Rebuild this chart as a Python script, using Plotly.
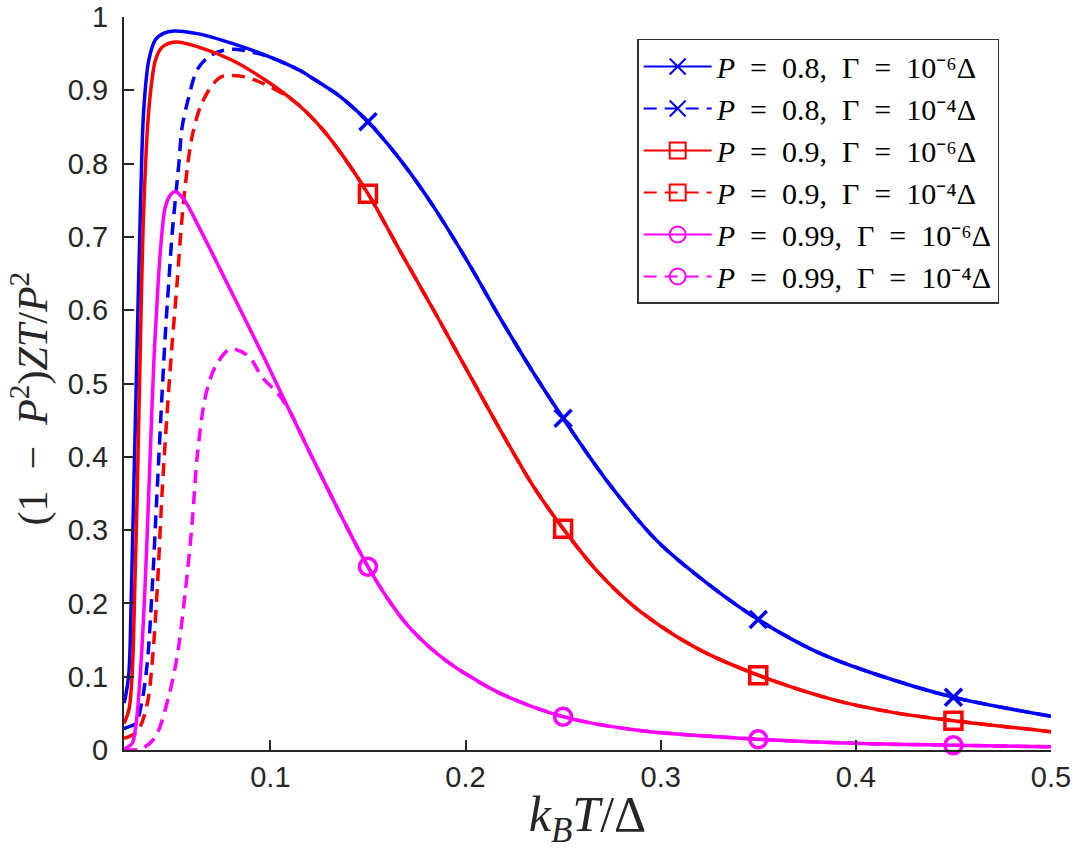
import plotly.graph_objects as go

# ---------------- data ----------------
# P = 0.8, Gamma = 1e-6 Delta (solid blue)
x_b6 = [0.025, 0.0258, 0.0275, 0.0288, 0.0300, 0.0312, 0.0334, 0.0351, 0.0377, 0.0411,
        0.0455, 0.0505, 0.0633, 0.0804, 0.0974, 0.1145, 0.123, 0.135, 0.15, 0.1666,
        0.1837, 0.2007, 0.2178, 0.2354, 0.25, 0.2739, 0.2982, 0.3245, 0.35, 0.3791,
        0.4095, 0.45, 0.5]
y_b6 = [0.064, 0.073, 0.105, 0.218, 0.355, 0.491, 0.737, 0.873, 0.941, 0.969,
        0.978, 0.981, 0.977, 0.964, 0.948, 0.928, 0.914, 0.893, 0.857, 0.805,
        0.741, 0.668, 0.589, 0.512, 0.4525, 0.362, 0.285, 0.226, 0.178, 0.135,
        0.104, 0.072, 0.046]

# P = 0.8, Gamma = 1e-4 Delta (dashed blue)
x_b4 = [0.025, 0.0258, 0.0309, 0.0343, 0.0369, 0.0394, 0.0420, 0.0446, 0.0462, 0.0479,
        0.0497, 0.0531, 0.0548, 0.0582, 0.0625, 0.0684, 0.0753, 0.0821, 0.094, 0.1,
        0.1145, 0.123, 0.135, 0.15, 0.1666, 0.1837, 0.2007, 0.2178, 0.2354, 0.25,
        0.2739, 0.2982, 0.3245, 0.35, 0.3791, 0.4095, 0.45, 0.5]
y_b4 = [0.028, 0.030, 0.036, 0.068, 0.118, 0.218, 0.355, 0.491, 0.568, 0.637,
        0.705, 0.800, 0.850, 0.891, 0.928, 0.946, 0.954, 0.956, 0.950, 0.945,
        0.928, 0.914, 0.893, 0.857, 0.805, 0.741, 0.668, 0.589, 0.512, 0.4525,
        0.362, 0.285, 0.226, 0.178, 0.135, 0.104, 0.072, 0.046]

# P = 0.9, Gamma = 1e-6 Delta (solid red)
x_r6 = [0.025, 0.0275, 0.0292, 0.0305, 0.0318, 0.0329, 0.0351, 0.0377, 0.0411, 0.0446,
        0.0514, 0.0633, 0.0804, 0.0974, 0.1145, 0.123, 0.1324, 0.15, 0.1666, 0.1862,
        0.202, 0.2233, 0.2354, 0.25, 0.2678, 0.2881, 0.3184, 0.35, 0.3893, 0.4196,
        0.45, 0.5]
y_r6 = [0.036, 0.0546, 0.105, 0.218, 0.355, 0.491, 0.737, 0.873, 0.941, 0.959,
        0.966, 0.959, 0.941, 0.914, 0.880, 0.858, 0.828, 0.759, 0.680, 0.588,
        0.512, 0.411, 0.357, 0.302, 0.243, 0.192, 0.139, 0.102, 0.068, 0.051,
        0.040, 0.025]

# P = 0.9, Gamma = 1e-4 Delta (dashed red)
x_r4 = [0.025, 0.0318, 0.0369, 0.0394, 0.0420, 0.0446, 0.0479, 0.0497, 0.0522, 0.0548,
        0.0573, 0.0599, 0.0642, 0.0702, 0.0753, 0.0855, 0.094, 0.106, 0.1145, 0.123,
        0.1324, 0.15, 0.1666, 0.1862, 0.202, 0.2233, 0.2354, 0.25, 0.2678, 0.2881,
        0.3184, 0.35, 0.3893, 0.4196, 0.45, 0.5]
y_r4 = [0.016, 0.025, 0.063, 0.118, 0.218, 0.355, 0.491, 0.555, 0.637, 0.728,
        0.791, 0.837, 0.878, 0.907, 0.919, 0.919, 0.912, 0.896, 0.880, 0.858,
        0.828, 0.759, 0.680, 0.588, 0.512, 0.411, 0.357, 0.302, 0.243, 0.192,
        0.139, 0.102, 0.068, 0.051, 0.040, 0.025]

# P = 0.99, Gamma = 1e-6 Delta (solid magenta)
x_m6 = [0.025, 0.0258, 0.0292, 0.0312, 0.0334, 0.0357, 0.0374, 0.0391, 0.0403, 0.0420,
        0.0437, 0.0462, 0.0490, 0.0514, 0.056, 0.0633, 0.0804, 0.0974, 0.106, 0.12,
        0.13, 0.14, 0.15, 0.16, 0.17, 0.18, 0.19, 0.2, 0.2172, 0.25,
        0.2881, 0.35, 0.3994, 0.45, 0.5]
y_m6 = [0.0, 0.002, 0.009, 0.036, 0.105, 0.218, 0.330, 0.450, 0.530, 0.614,
        0.682, 0.741, 0.758, 0.762, 0.750, 0.714, 0.623, 0.532, 0.484, 0.407,
        0.353, 0.300, 0.250, 0.207, 0.171, 0.144, 0.122, 0.104, 0.078, 0.0455,
        0.027, 0.0147, 0.0091, 0.0065, 0.0045]

# P = 0.99, Gamma = 1e-4 Delta (dashed magenta)
x_m4 = [0.025, 0.0343, 0.0411, 0.0479, 0.0522, 0.0565, 0.0599, 0.0625, 0.0667, 0.0718,
        0.0795, 0.0889, 0.0957, 0.1042, 0.11, 0.12, 0.13, 0.14, 0.15, 0.16,
        0.17, 0.18, 0.19, 0.2, 0.2172, 0.25, 0.2881, 0.35, 0.3994, 0.45,
        0.5]
y_m4 = [0.0, 0.002, 0.018, 0.073, 0.127, 0.218, 0.309, 0.400, 0.482, 0.523,
        0.547, 0.537, 0.509, 0.485, 0.462, 0.407, 0.353, 0.300, 0.250, 0.207,
        0.171, 0.144, 0.122, 0.104, 0.078, 0.0455, 0.027, 0.0147, 0.0091, 0.0065,
        0.0045]

marker_x = [0.15, 0.25, 0.35, 0.45]

SP = "\u2002"  # en space, to mimic TeX math spacing
labels = [
    f"<i>P</i>{SP}={SP}0.8,{SP}Γ{SP}={SP}10⁻⁶Δ",
    f"<i>P</i>{SP}={SP}0.8,{SP}Γ{SP}={SP}10⁻⁴Δ",
    f"<i>P</i>{SP}={SP}0.9,{SP}Γ{SP}={SP}10⁻⁶Δ",
    f"<i>P</i>{SP}={SP}0.9,{SP}Γ{SP}={SP}10⁻⁴Δ",
    f"<i>P</i>{SP}={SP}0.99,{SP}Γ{SP}={SP}10⁻⁶Δ",
    f"<i>P</i>{SP}={SP}0.99,{SP}Γ{SP}={SP}10⁻⁴Δ",
]
x_title = "<i>k<sub>B</sub>T</i>/Δ"
y_title = f"(1{SP}−{SP}<i>P</i><sup>2</sup>)<i>ZT</i>/<i>P</i><sup>2</sup>"
x_ticks = [0.1, 0.2, 0.3, 0.4, 0.5]
y_ticks = [0, 0.1, 0.2, 0.3, 0.4, 0.5, 0.6, 0.7, 0.8, 0.9, 1]

# ---------------- styling ----------------
BLUE, RED, MAG = "#0000FF", "#FF0000", "#FF00FF"
DASH = "13px,8px"
series = [
    (x_b6, y_b6, BLUE, "solid", "x-thin-open", labels[0]),
    (x_b4, y_b4, BLUE, DASH, "x-thin-open", labels[1]),
    (x_r6, y_r6, RED, "solid", "square-open", labels[2]),
    (x_r4, y_r4, RED, DASH, "square-open", labels[3]),
    (x_m6, y_m6, MAG, "solid", "circle-open", labels[4]),
    (x_m4, y_m4, MAG, DASH, "circle-open", labels[5]),
]

fig = go.Figure()
LW = 3.5
for xs, ys, col, dash, sym, name in series:
    fig.add_trace(go.Scatter(
        x=xs, y=ys, mode="lines",
        line=dict(color=col, width=LW, dash=dash, shape="spline", smoothing=0.9),
        showlegend=False, hoverinfo="skip"))

# markers on the solid curves
for xs, ys, col, dash, sym, name in series:
    if dash != "solid":
        continue
    mx = [x for x in xs if x in marker_x]
    my = [ys[xs.index(x)] for x in mx]
    fig.add_trace(go.Scatter(
        x=mx, y=my, mode="markers",
        marker=dict(symbol=sym, size=17, color=col,
                    line=dict(color=col, width=3.5)),
        showlegend=False, hoverinfo="skip", cliponaxis=False))

# legend-only entries
for xs, ys, col, dash, sym, name in series:
    fig.add_trace(go.Scatter(
        x=[None], y=[None], mode="lines+markers", name=name,
        line=dict(color=col, width=2, dash=dash),
        marker=dict(symbol=sym, size=16, color=col, line=dict(color=col, width=2))))

AX = "#262626"
fig.update_layout(
    width=1078, height=850,
    margin=dict(l=124, r=27, t=17, b=100),
    paper_bgcolor="white", plot_bgcolor="white",
    showlegend=True,
    legend=dict(
        x=0.5536, y=0.970, xanchor="left", yanchor="top",
        bgcolor="white", bordercolor="#333333", borderwidth=1.5,
        font=dict(family="Liberation Serif", size=30, color="black"),
        itemwidth=68, tracegroupgap=0,
    ),
    xaxis=dict(
        range=[0.025, 0.5], tickvals=x_ticks, ticktext=[str(v) for v in x_ticks],
        ticks="inside", ticklen=10, tickwidth=2, tickcolor=AX,
        showline=True, linecolor=AX, linewidth=2, mirror=False,
        showgrid=False, zeroline=False, automargin=False,
        tickfont=dict(family="Liberation Sans", size=29, color=AX),
        ticklabelstandoff=0,
        title=dict(text=x_title,
                   font=dict(family="Liberation Serif", size=50, color=AX)),
    ),
    yaxis=dict(
        range=[0, 1], tickvals=y_ticks,
        ticktext=["0"] + [str(v) for v in y_ticks[1:-1]] + ["1"],
        ticks="inside", ticklen=10, tickwidth=2, tickcolor=AX,
        showline=True, linecolor=AX, linewidth=2, mirror=False,
        showgrid=False, zeroline=False, automargin=False,
        tickfont=dict(family="Liberation Sans", size=29, color=AX),
        ticklabelstandoff=8,
    ),
    annotations=[dict(
        text=y_title, xref="paper", yref="paper", x=-0.101, y=0.48,
        xanchor="center", yanchor="middle", textangle=-90, showarrow=False,
        font=dict(family="Liberation Serif", size=42, color=AX),
    )],
)

fig.write_html("out.html")
